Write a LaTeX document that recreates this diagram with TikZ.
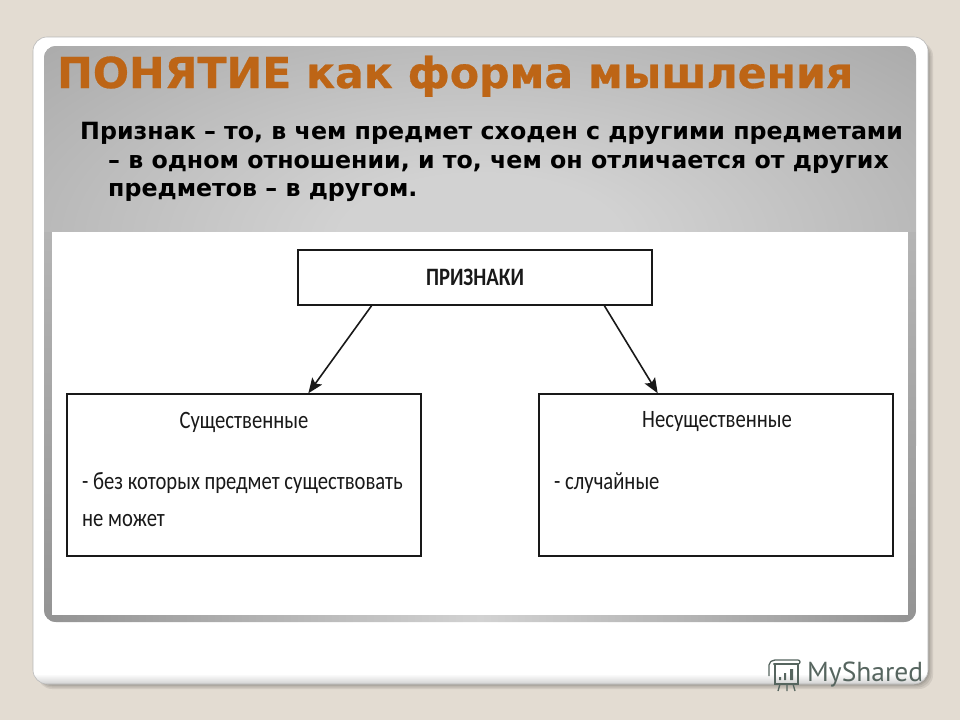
\documentclass[tikz,border=0pt]{standalone}
\usepackage{fontspec}
\setmainfont{DejaVu Sans}
\newfontfamily\headfont[FakeBold=0.6]{DejaVu Sans Bold}
\newfontfamily\boxfont[FakeStretch=0.825]{Carlito}
\newfontfamily\markfont{PT Sans}
\usetikzlibrary{calc,arrows.meta}
\definecolor{pagebg}{HTML}{E3DCD2}
\definecolor{titlecol}{HTML}{BD6516}
\definecolor{markcol}{HTML}{56655F}
\definecolor{panelin}{HTML}{D2D2D2}
\definecolor{panelout}{HTML}{949494}
\definecolor{panelside}{HTML}{B4B4B4}
\pgfdeclareradialshading{panelshade}{\pgfpoint{0bp}{0bp}}{color(0bp)=(panelin); color(8bp)=(panelin); color(50bp)=(panelout)}
\tikzset{
  card/.style={rounded corners=14pt,fill=white},
  cardshadow/.style={rounded corners=14pt,fill=black,opacity=0.08},
  chart/.style={draw=black!90,line width=1.5pt,fill=white,minimum width=354pt,inner sep=0pt},
  link/.style={draw=black!90,line width=1.6pt,-{Stealth[length=15pt,width=12pt,inset=3pt]}},
  titletext/.style={anchor=base west,inner sep=0pt,text=titlecol,font=\headfont\fontsize{42.6}{42.6}\selectfont},
  bodytext/.style={anchor=base west,inner sep=0pt,font=\fontsize{23.7}{28}\selectfont\bfseries},
  boxtext/.style={inner sep=0pt,text=black!90,font=\boxfont\fontsize{25}{28}\selectfont},
  marktext/.style={anchor=base west,inner sep=0pt,text=markcol,font=\markfont\fontsize{27.5}{28}\selectfont},
  markline/.style={draw=markcol,line width=1.3pt}
}
\begin{document}
\begin{tikzpicture}[x=1pt,y=-1pt]
\useasboundingbox (0,0) rectangle (960,720);
\fill[pagebg] (0,0) rectangle (960,720);
% card with soft shadow on the lower right
\foreach \d in {5,3.5,2,1}{
  \fill[cardshadow] (38,42) rectangle (928+\d,684+\d);
}
\fill[card] (33,37) rectangle (928,684);
\begin{scope}
\clip[rounded corners=14pt] (33,37) rectangle (928,684);
\shade[top color=white,bottom color=black!18] (33,674) rectangle (928,684);
\end{scope}
\draw[rounded corners=14pt,draw=black!28,line width=0.6pt] (33,37) rectangle (928,684);
% panel
\begin{scope}
\clip[rounded corners=12pt] (44,46) rectangle (916,622);
\fill[panelout] (44,46) rectangle (916,622);
\shade[shading=panelshade] (42,35) rectangle (918,445);
\shade[top color=panelside,bottom color=panelout] (44,232) rectangle (52,622);
\shade[top color=panelside,bottom color=panelout] (908,232) rectangle (916,622);
\shade[left color=panelout,right color=panelout,middle color=panelin] (52,610) rectangle (908,622);
\end{scope}
\fill[white] (52,232) rectangle (908,615);
% texts
\node[titletext] (title) at (57,88) {ПОНЯТИЕ как форма мышления};
\node[bodytext] (line1) at (80,139) {Признак – то, в чем предмет сходен с другими предметами};
\node[bodytext] (line2) at (108,168) {– в одном отношении, и то, чем он отличается от других};
\node[bodytext] (line3) at (108,196) {предметов – в другом.};
% chart
\node[chart,minimum height=55pt] (top) at (475,277.5) {};
\node[chart,minimum height=162pt] (left) at (244,475) {};
\node[chart,minimum height=162pt] (right) at (716,475) {};
\node[boxtext,font=\boxfont\bfseries\fontsize{25}{28}\selectfont] (toplabel) at (475,277) {ПРИЗНАКИ};
\node[boxtext] (leftlabel) at (244,422) {Существенные};
\node[boxtext] (rightlabel) at (717,422) {Несущественные};
\node[boxtext,anchor=base west] (leftone) at (82,489) {- без которых предмет существовать};
\node[boxtext,anchor=base west] (lefttwo) at (82,526) {не может};
\node[boxtext,anchor=base west] (rightone) at (554,489) {- случайные};
\draw[link] ($(top.south west)!0.209!(top.south east)$) -- ($(left.north west)!0.681!(left.north east)$);
\draw[link] ($(top.south west)!0.864!(top.south east)$) -- ($(right.north west)!0.336!(right.north east)$);
% watermark
\node[marktext] (mark) at (807,681) {MyShared};
\draw[markline] (775,664) rectangle (798,684);
\draw[markline,rounded corners=2pt] (769,676) -- (769,663) -- (773,660) -- (800,660) -- (800,664) -- (773,664);
\fill[markcol] (779,677) rectangle (781,680) (784,673) rectangle (786,680) (790,669) rectangle (793,680);
\draw[markline] (780,684) -- (778,691) (787,684) -- (787,691) (793,684) -- (795,691);
\end{tikzpicture}
\end{document}
